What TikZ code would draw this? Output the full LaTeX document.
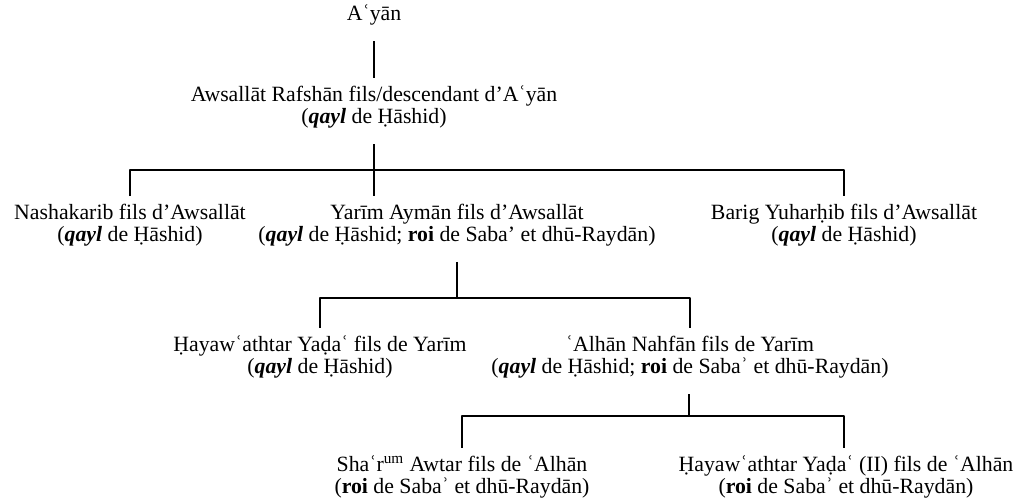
\documentclass[tikz,border=0pt]{standalone}
\usepackage{fontspec}
\setmainfont{Liberation Serif}
\begin{document}
\begin{tikzpicture}[x=0.02cm, y=-0.02cm, line width=1.1pt, line join=round,
		font=\fontsize{12.4}{12.6}\selectfont,
		person/.style={align=center, inner sep=3pt, outer sep=1.5pt},
		down/.style={shorten <=4.5pt}]
	\def\qayl{(\textbf{\textit{qayl}} de Ḥāshid)}
	\def\roi{(\textbf{roi} de Sabaʾ et dhū-Raydān)}
	\useasboundingbox (0,0) rectangle (1021,503);
	% générations
	\node[person] (ayan) at (374,15) {Aʿyān};
	\node[person] (awsallat) at (374,107) {Awsallāt Rafshān fils/descendant d’Aʿyān\\\qayl};
	\node[person] (nashakarib) at (130,225) {Nashakarib fils d’Awsallāt\\\qayl};
	\node[person] (yarim) at (457,225) {Yarīm Aymān fils d’Awsallāt\\(\textbf{\textit{qayl}} de Ḥāshid; \textbf{roi} de Saba’ et dhū-Raydān)};
	\node[person] (barig) at (844,225) {Barig Yuharḥib fils d’Awsallāt\\\qayl};
	\node[person] (hayaw) at (320,357) {Ḥayawʿathtar Yaḍaʿ fils de Yarīm\\\qayl};
	\node[person] (alhan) at (690,357) {ʿAlhān Nahfān fils de Yarīm\\(\textbf{\textit{qayl}} de Ḥāshid; \textbf{roi} de Sabaʾ et dhū-Raydān)};
	\node[person] (sharum) at (462,477) {Shaʿr\textsuperscript{um} Awtar fils de ʿAlhān\\\roi};
	\node[person] (hayawb) at (846,477) {Ḥayawʿathtar Yaḍaʿ (II) fils de ʿAlhān\\\roi};
	% liens
	\coordinate (b1) at (374,170);
	\coordinate (b2) at (457,298);
	\coordinate (b3) at (689,416);
	\draw[down] (ayan) -- (awsallat);
	\draw[down] (awsallat) -- (b1) -- (b1 |- yarim.north);
	\draw (nashakarib.north) |- (b1) -| (barig.north);
	\draw[down] (yarim) -- (b2);
	\draw (hayaw.north) |- (b2) -| (alhan.north);
	\draw[down] (alhan.south -| b3) -- (b3);
	\draw (sharum.north) |- (b3) -| (hayawb.north -| 844,0);
\end{tikzpicture}
\end{document}
